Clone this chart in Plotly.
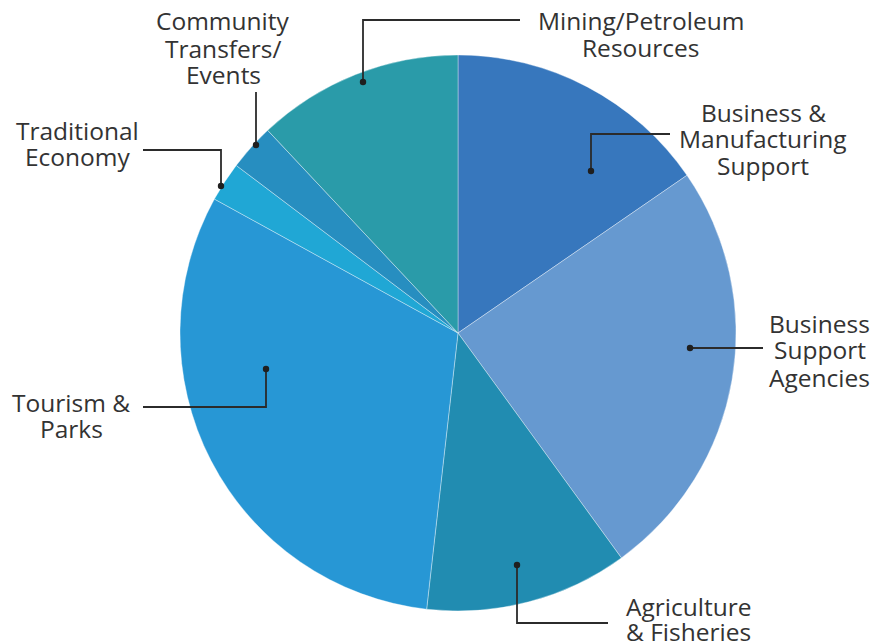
import plotly.graph_objects as go

# ---- data ----
categories = [
    "Business & Manufacturing Support",
    "Business Support Agencies",
    "Agriculture & Fisheries",
    "Tourism & Parks",
    "Traditional Economy",
    "Community Transfers/Events",
    "Mining/Petroleum Resources",
]
values = [15.4, 24.6, 11.8, 31.2, 2.3, 2.7, 12.0]
colors = ["#3777BD", "#6699D0", "#218CB1", "#2797D5", "#20A7D5", "#278EC0", "#2A9BA9"]

# label lines (one entry per category)
label_lines = [
    ["Business &", "Manufacturing", "Support"],
    ["Business", "Support", "Agencies"],
    ["Agriculture", "& Fisheries"],
    ["Tourism &", "Parks"],
    ["Traditional", "Economy"],
    ["Community", "Transfers/", "Events"],
    ["Mining/Petroleum", "Resources"],
]

# ---- layout (window pixel positions) ----
W, H = 887, 642

# (x center, first line y center, line spacing)
label_pos = [
    (763, 112, 27),
    (819.5, 323, 27),
    (688, 606, 25),
    (71, 402, 26),
    (77.5, 130, 26),
    (223, 21, 27),
    (641, 21, 26.5),
]
# leader polylines: list of points, first is dot
leaders = [
    [(591, 171), (591, 134), (670, 134)],
    [(690, 348), (763, 348)],
    [(517, 565), (517, 623), (608, 623)],
    [(266, 369), (266, 407), (143, 407)],
    [(221, 186), (221, 150), (143, 150)],
    [(256, 145), (256, 92)],
    [(363, 82), (363, 20), (520, 20)],
]

cx, cy, r = 458, 333, 278


def px(x):
    return x / W


def py(y):
    return 1 - y / H


fig = go.Figure(go.Pie(
    labels=categories,
    values=values,
    sort=False,
    direction="clockwise",
    rotation=0,
    textinfo="none",
    hoverinfo="label+percent",
    marker=dict(colors=colors, line=dict(color="rgba(255,255,255,0.45)", width=0.8)),
    domain=dict(x=[px(cx - r), px(cx + r)], y=[py(cy + r), py(cy - r)]),
    showlegend=False,
))

shapes = []
for pts in leaders:
    path = "M " + " L ".join(f"{px(x)},{py(y)}" for x, y in pts)
    shapes.append(dict(type="path", xref="paper", yref="paper", path=path,
                       line=dict(color="#2b2b2b", width=1.8)))
    dx, dy = pts[0]
    rd = 3.2
    shapes.append(dict(type="circle", xref="paper", yref="paper",
                       x0=px(dx - rd), x1=px(dx + rd), y0=py(dy + rd), y1=py(dy - rd),
                       fillcolor="#1f1f1f", line=dict(width=0)))

annotations = []
for lines, (x, y0, sp) in zip(label_lines, label_pos):
    for i, line in enumerate(lines):
        annotations.append(dict(text=line, x=px(x), y=py(y0 + i * sp), xref="paper", yref="paper",
                                xanchor="center", yanchor="middle", showarrow=False,
                                font=dict(family="Open Sans", size=24.5, color="#333333")))

fig.update_layout(
    width=W, height=H, autosize=False,
    margin=dict(l=0, r=0, t=0, b=0),
    paper_bgcolor="white", plot_bgcolor="white",
    shapes=shapes, annotations=annotations,
)

fig.write_html(
    "out.html",
    config={"displayModeBar": False},
    post_script="document.body.style.margin='0';document.body.style.overflow='hidden';",
)
